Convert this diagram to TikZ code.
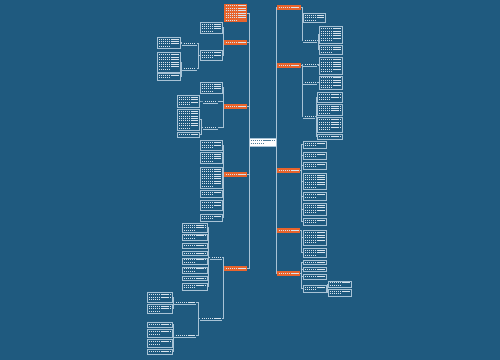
\documentclass[tikz,border=0pt]{standalone}
\usepackage{tikz}
\definecolor{bg}{HTML}{1F5A7F}
\definecolor{topicor}{HTML}{E8642C}
\definecolor{wire}{HTML}{A8C3D6}
\definecolor{ink}{HTML}{D8E3EC}
\tikzset{
  leaf/.style  = {rectangle, draw=wire, line width=0.3pt, inner sep=0, outer sep=0},
  topic/.style = {rectangle, fill=topicor, inner sep=0, outer sep=0},
  hub/.style   = {rectangle, fill=white, draw=wire, line width=0.3pt, inner sep=0, outer sep=0},
  sub/.style   = {rectangle, inner sep=0, outer sep=0},
  link/.style  = {draw=wire, line width=0.4pt},
  txt/.style   = {draw=ink, line width=0.45pt, dash pattern=on 0.8pt off 0.4pt},
  txtdk/.style = {draw=bg!80, line width=0.45pt, dash pattern=on 0.8pt off 0.4pt}
}
% block: [text style]{style}{name}{x1}{y1}{x2}{y2}, pixel coordinates
\newcommand\blk[7][txt]{%
  \node[#2, minimum width={(#6-#4)*0.2mm}, minimum height={(#7-#5)*0.2mm}] (#3) at ({(#4+#6)/2},{(#5+#7)/2}) {};
  \pgfmathtruncatemacro\nrows{max(1,floor((#7-#5-1)/2.4))}%
  \pgfmathsetmacro\yoff{(#7-#5-\nrows*2.4)/2}%
  \foreach \k in {1,...,\nrows}{%
    \pgfmathsetmacro\ly{#5+\yoff+(\k-0.5)*2.4}%
    \ifnum\k=\nrows \ifnum\nrows>1 \def\xe{(#4+(#6-#4)*0.55)}\else\def\xe{(#6-1.5)}\fi\else\def\xe{(#6-1.5)}\fi
    \draw[#1] (#4+1.5,\ly) -- ({\xe},\ly);
  }}

\begin{document}
\begin{tikzpicture}[x=0.2mm, y=-0.2mm]
  \fill[bg] (0,0) rectangle (500,360);
  \useasboundingbox (0,0) rectangle (500,360);

  % centre
  \blk[txtdk]{hub}{c}{249}{138}{276}{146}

  % right side
  \blk{topic}{R1}{277}{5}{301}{10}
  \blk{leaf}{r1a}{303}{13}{325}{22}
  \blk{sub}{r1b}{303}{38}{317}{42}
  \blk{leaf}{r1b1}{319}{26}{342}{43}
  \blk{leaf}{r1b2}{319}{45}{342}{54}

  \blk{topic}{R2}{277}{63}{301}{68}
  \blk{sub}{r2a}{303}{62}{317}{66}
  \blk{leaf}{r2a1}{319}{57}{342}{74}
  \blk{sub}{r2b}{303}{80}{317}{84}
  \blk{leaf}{r2b1}{319}{76}{342}{89}
  \blk{sub}{r2c}{303}{114}{315}{118}
  \blk{leaf}{r2c1}{317}{92}{342}{102}
  \blk{leaf}{r2c2}{317}{104}{342}{115}
  \blk{leaf}{r2c3}{317}{117}{342}{132}
  \blk{leaf}{r2c4}{317}{134}{342}{139}

  \blk{topic}{R3}{277}{168}{300}{173}
  \blk{leaf}{r3a}{303}{141}{326}{148}
  \blk{leaf}{r3b}{303}{152}{326}{159}
  \blk{leaf}{r3c}{303}{162}{326}{169}
  \blk{leaf}{r3d}{303}{173}{326}{189}
  \blk{leaf}{r3e}{303}{192}{326}{200}
  \blk{leaf}{r3f}{303}{203}{326}{215}
  \blk{leaf}{r3g}{303}{218}{326}{225}

  \blk{topic}{R4}{277}{228}{300}{233}
  \blk{leaf}{r4a}{303}{230}{326}{245}
  \blk{leaf}{r4b}{303}{248}{326}{257}

  \blk{topic}{R5}{277}{271}{300}{276}
  \blk{leaf}{r5a}{303}{260}{326}{264}
  \blk{leaf}{r5b}{303}{267}{326}{271}
  \blk{leaf}{r5c}{303}{274}{326}{279}
  \blk{leaf}{r5d}{303}{285}{326}{292}
  \blk{leaf}{r5d1}{328}{281}{351}{287}
  \blk{leaf}{r5d2}{328}{289}{351}{296}

  % left side
  \blk{topic}{L1}{224}{4}{247}{22}

  \blk{topic}{L2}{224}{40}{247}{45}
  \blk{leaf}{l2a}{200}{22}{222}{33}
  \blk{leaf}{l2b}{200}{50}{222}{60}
  \blk{sub}{l2b1}{182}{41}{197}{45}
  \blk{leaf}{l2b1a}{157}{37}{180}{48}
  \blk{sub}{l2b2}{182}{66}{197}{70}
  \blk{leaf}{l2b2a}{157}{52}{180}{72}
  \blk{leaf}{l2b2b}{157}{73}{180}{80}

  \blk{topic}{L3}{224}{104}{247}{109}
  \blk{leaf}{l3a}{200}{82}{222}{93}
  \blk{sub}{l3b}{203}{99}{218}{103}
  \blk{leaf}{l3b1}{177}{95}{199}{107}
  \blk{sub}{l3c}{203}{125}{218}{129}
  \blk{leaf}{l3c1}{177}{109}{199}{130}
  \blk{leaf}{l3c2}{177}{132}{199}{137}

  \blk{topic}{L4}{224}{172}{247}{177}
  \blk{leaf}{l4a}{200}{140}{222}{150}
  \blk{leaf}{l4b}{200}{152}{222}{163}
  \blk{leaf}{l4c}{200}{167}{222}{188}
  \blk{leaf}{l4d}{200}{190}{222}{197}
  \blk{leaf}{l4e}{200}{200}{222}{210}
  \blk{leaf}{l4f}{200}{214}{222}{221}

  \blk{topic}{L5}{224}{266}{247}{271}
  \blk{sub}{l5a}{210}{255}{222}{259}
  \blk{leaf}{l5a1}{182}{223}{207}{232}
  \blk{leaf}{l5a2}{182}{234}{207}{240}
  \blk{leaf}{l5a3}{182}{243}{207}{248}
  \blk{leaf}{l5a4}{182}{251}{207}{255}
  \blk{leaf}{l5a5}{182}{258}{207}{264}
  \blk{leaf}{l5a6}{182}{267}{207}{273}
  \blk{leaf}{l5a7}{182}{276}{207}{280}
  \blk{leaf}{l5a8}{182}{283}{207}{290}
  \blk{sub}{l5b}{200}{316}{222}{320}
  \blk{sub}{l5b1}{174}{300}{196}{304}
  \blk{leaf}{l5b1a}{147}{292}{172}{302}
  \blk{leaf}{l5b1b}{147}{304}{172}{313}
  \blk{sub}{l5b2}{174}{333}{196}{337}
  \blk{leaf}{l5b2a}{147}{322}{172}{327}
  \blk{leaf}{l5b2b}{147}{329}{172}{337}
  \blk{leaf}{l5b2c}{147}{339}{172}{347}
  \blk{leaf}{l5b2d}{147}{349}{172}{354}

  % underlines of sub topics
  \foreach \s in {r1b,r2a,r2b,r2c,l2b1,l2b2,l3b,l3c,l5a,l5b,l5b1,l5b2}
    \draw[link] (\s.south west) -- (\s.south east);

  % spines
  \foreach \o in {L1,L2,L3} \draw[link] (c.north west) |- (\o.east);
  \foreach \o in {L4,L5} \draw[link] (c.south west) |- (\o.east);
  \foreach \o in {R1,R2} \draw[link] (c.north east) |- (\o.west);
  \foreach \o in {R3,R4,R5} \draw[link] (c.south east) |- (\o.west);

  % right branches
  \foreach \k in {r1a,r1b} \draw[link] (R1.east) -- ++(1,0) |- (\k.west);
  \foreach \k in {r1b1,r1b2} \draw[link] (r1b.east) -- ++(1,0) |- (\k.west);
  \foreach \k in {r2a,r2b,r2c} \draw[link] (R2.east) -- ++(1,0) |- (\k.west);
  \draw[link] (r2a.east) -- ++(1,0) |- (r2a1.west);
  \draw[link] (r2b.east) -- ++(1,0) |- (r2b1.west);
  \foreach \k in {r2c1,r2c2,r2c3,r2c4} \draw[link] (r2c.east) -- ++(1,0) |- (\k.west);
  \foreach \k in {r3a,r3b,r3c,r3d,r3e,r3f,r3g} \draw[link] (R3.east) -- ++(1.5,0) |- (\k.west);
  \foreach \k in {r4a,r4b} \draw[link] (R4.east) -- ++(1.5,0) |- (\k.west);
  \foreach \k in {r5a,r5b,r5c,r5d} \draw[link] (R5.east) -- ++(1.5,0) |- (\k.west);
  \foreach \k in {r5d1,r5d2} \draw[link] (r5d.east) -- ++(1,0) |- (\k.west);

  % left branches
  \foreach \k in {l2a,l2b} \draw[link] (L2.west) -- ++(-1,0) |- (\k.east);
  \foreach \k in {l2b1,l2b2} \draw[link] (l2b.west) -- ++(-1.5,0) |- (\k.east);
  \draw[link] (l2b1.west) -- ++(-1,0) |- (l2b1a.east);
  \foreach \k in {l2b2a,l2b2b} \draw[link] (l2b2.west) -- ++(-1,0) |- (\k.east);
  \foreach \k in {l3a,l3b,l3c} \draw[link] (L3.west) -- ++(-1,0) |- (\k.east);
  \draw[link] (l3b.west) -- ++(-1.5,0) |- (l3b1.east);
  \foreach \k in {l3c1,l3c2} \draw[link] (l3c.west) -- ++(-1.5,0) |- (\k.east);
  \foreach \k in {l4a,l4b,l4c,l4d,l4e,l4f} \draw[link] (L4.west) -- ++(-1,0) |- (\k.east);
  \foreach \k in {l5a,l5b} \draw[link] (L5.west) -- ++(-1,0) |- (\k.east);
  \foreach \k in {l5a1,l5a2,l5a3,l5a4,l5a5,l5a6,l5a7,l5a8} \draw[link] (l5a.west) -- ++(-1.5,0) |- (\k.east);
  \foreach \k in {l5b1,l5b2} \draw[link] (l5b.west) -- ++(-2,0) |- (\k.east);
  \foreach \k in {l5b1a,l5b1b} \draw[link] (l5b1.west) -- ++(-1,0) |- (\k.east);
  \foreach \k in {l5b2a,l5b2b,l5b2c,l5b2d} \draw[link] (l5b2.west) -- ++(-1,0) |- (\k.east);
\end{tikzpicture}
\end{document}
